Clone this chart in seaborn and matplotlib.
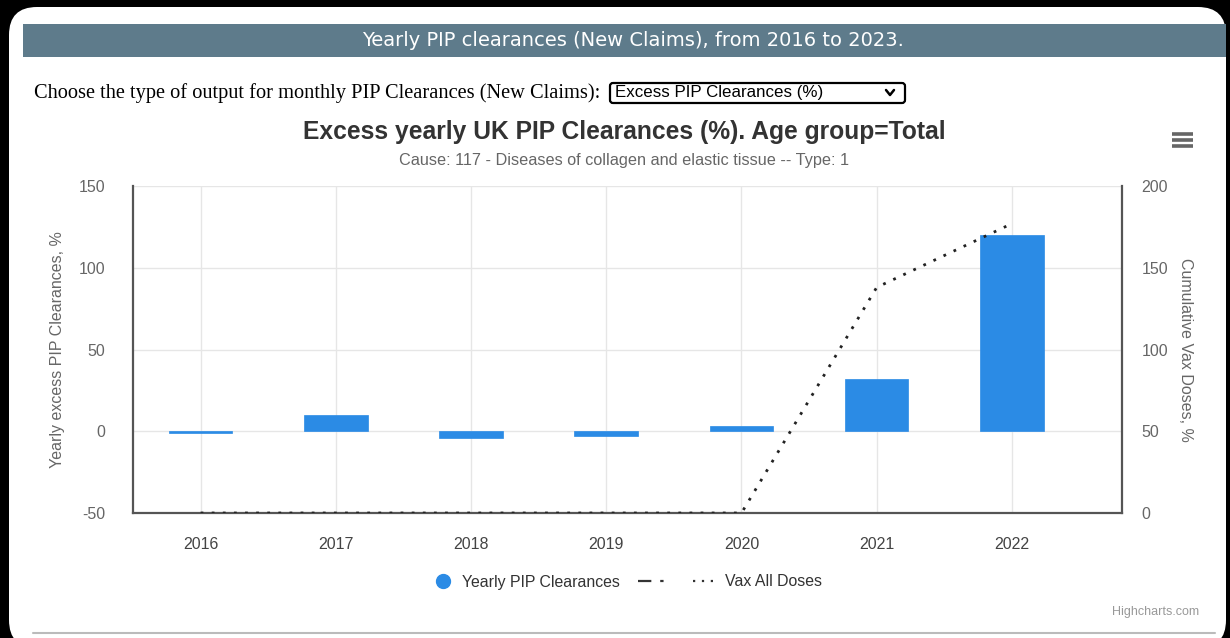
#!/usr/bin/env python3
"""Excess yearly UK PIP clearances with cumulative vax doses, Highcharts-like look."""

import numpy as np
import matplotlib
matplotlib.use("Agg")
import matplotlib.pyplot as plt
from matplotlib import font_manager
from matplotlib.lines import Line2D
from matplotlib.patches import FancyBboxPatch, Rectangle
from matplotlib.transforms import IdentityTransform
import seaborn as sns


YEARS = ["2016", "2017", "2018", "2019", "2020", "2021", "2022"]
EXCESS_PCT = [-1, 10, -4, -3, 3, 32, 120]
VAX_DOSES_PCT = [0, 0, 0, 0, 0, 138, 177]
LEFT_TICKS = [-50, 0, 50, 100, 150]
RIGHT_TICKS = [0, 50, 100, 150, 200]

W, H = 1230, 638
BAR_BLUE = "#2b8be5"
AXIS_DARK = "#555555"
TEXT_GRAY = "#666666"


def fx(x):
    return x / W


def fy(y):
    return 1 - y / H


def installed(name):
    return any(f.name == name for f in font_manager.fontManager.ttflist)


sns.set_style("white")
plt.rcParams["font.family"] = ["Liberation Sans", "DejaVu Sans"]
plt.rcParams["axes.unicode_minus"] = False
narrow = "Liberation Sans Narrow" if installed("Liberation Sans Narrow") else "DejaVu Sans"

fig = plt.figure(figsize=(W / 100, H / 100), dpi=100, facecolor="black")

# white rounded card on black screen (behind the axes)
fig.patches.append(FancyBboxPatch(
    (9, -10), 1217, H - 7 + 10,
    boxstyle="round,pad=0,rounding_size=28",
    transform=IdentityTransform(), facecolor="white", edgecolor="none", zorder=-2))

# header banner
fig.patches.append(Rectangle((fx(23), fy(57)), fx(1226 - 23), (57 - 24) / H,
                             transform=fig.transFigure, facecolor="#5e7b8b",
                             edgecolor="none", zorder=-1))
fig.text(fx(633), fy(41), "Yearly PIP clearances (New Claims), from 2016 to 2023.",
         family=narrow, color="white", fontsize=14, ha="center", va="center")

# dropdown row
fig.text(fx(34), fy(93), "Choose the type of output for monthly PIP Clearances (New Claims):",
         family="Liberation Serif", fontsize=14.7, color="black", ha="left", va="center")
fig.patches.append(FancyBboxPatch(
    (610, H - 103), 295, 20, boxstyle="round,pad=0,rounding_size=3",
    transform=IdentityTransform(), facecolor="white", edgecolor="black", linewidth=1.6,
    zorder=-1))
fig.text(fx(615), fy(93), "Excess PIP Clearances (%)", fontsize=12.2, color="black",
         ha="left", va="center")
fig.lines.append(Line2D([fx(886), fx(890), fx(894)], [fy(90), fy(95), fy(90)],
                        transform=fig.transFigure, color="black", linewidth=1.8))

# chart title and subtitle
fig.text(fx(624), fy(132), "Excess yearly UK PIP Clearances (%). Age group=Total",
         fontsize=17.7, fontweight="bold", color="#333333", ha="center", va="center")
fig.text(fx(624), fy(160), "Cause: 117 - Diseases of collagen and elastic tissue -- Type: 1",
         fontsize=11.7, color=TEXT_GRAY, ha="center", va="center")

# hamburger menu
for yy in (134, 140, 146):
    fig.lines.append(Line2D([fx(1172), fx(1193)], [fy(yy), fy(yy)], transform=fig.transFigure,
                            color="#666666", linewidth=2.6, solid_capstyle="butt"))

ax = fig.add_axes([fx(133), fy(513), fx(1122 - 133), (513 - 186) / H])
ax.set_facecolor("white")
sns.barplot(x=YEARS, y=EXCESS_PCT, ax=ax, color=BAR_BLUE, width=0.47,
            saturation=1, edgecolor=BAR_BLUE, linewidth=0.5, zorder=3)
ax.set_xlim(-0.5, 6.814)
ax.set_ylim(LEFT_TICKS[0], LEFT_TICKS[-1])
ax.set_yticks(LEFT_TICKS)
ax.grid(True, color="#e6e6e6", linewidth=1, zorder=0)
ax.set_axisbelow(True)
for side in ("top", "right"):
    ax.spines[side].set_visible(False)
for side in ("left", "bottom"):
    ax.spines[side].set_color(AXIS_DARK)
    ax.spines[side].set_linewidth(1.6)
ax.tick_params(axis="x", length=8, width=1.2, color=AXIS_DARK, pad=9,
               labelsize=11.5, labelcolor="#444444", direction="out")
ax.tick_params(axis="y", length=0, pad=20, labelsize=11.5, labelcolor=TEXT_GRAY)
ax.set_ylabel("Yearly excess PIP Clearances, %", fontsize=11.5, color=TEXT_GRAY, labelpad=10)
ax.set_xlabel("")

ax2 = ax.twinx()
sns.lineplot(x=np.arange(len(YEARS)), y=VAX_DOSES_PCT, ax=ax2, color="#222222",
             linewidth=2, linestyle=(0, (1, 3)), zorder=4)
ax2.set_xlim(-0.5, 6.814)
ax2.set_ylim(RIGHT_TICKS[0], RIGHT_TICKS[-1])
ax2.set_yticks(RIGHT_TICKS)
ax2.grid(False)
for side in ("top", "left", "bottom"):
    ax2.spines[side].set_visible(False)
ax2.spines["right"].set_color(AXIS_DARK)
ax2.spines["right"].set_linewidth(1.6)
ax2.tick_params(axis="y", length=0, pad=14, labelsize=11.5, labelcolor=TEXT_GRAY)
ax2.set_ylabel("Cumulative Vax Doses, %", fontsize=11.5, color=TEXT_GRAY,
               rotation=270, labelpad=18)

# legend
handles = [
    Line2D([], [], marker="o", linestyle="none", markersize=10, color=BAR_BLUE),
    Line2D([], [], color="#333333", linewidth=1.6, linestyle=(0, (6, 4, 1.5, 4))),
    Line2D([], [], color="#333333", linewidth=1.6, linestyle=(0, (1, 3))),
]
fig.legend(handles, ["Yearly PIP Clearances", " ", "Vax All Doses"], ncol=3,
           loc="center", bbox_to_anchor=(fx(626), fy(582)), frameon=False,
           fontsize=11.4, labelcolor="#333333", handlelength=1.6, handletextpad=0.4,
           columnspacing=1.2)

fig.text(fx(1199), fy(612), "Highcharts.com", fontsize=9, color="#999999",
         ha="right", va="center")
fig.lines.append(Line2D([fx(33), fx(1215)], [fy(633), fy(633)], transform=fig.transFigure,
                        color="#bbbbbb", linewidth=1.5))

fig.savefig("out.png", dpi=100, facecolor=fig.get_facecolor())
